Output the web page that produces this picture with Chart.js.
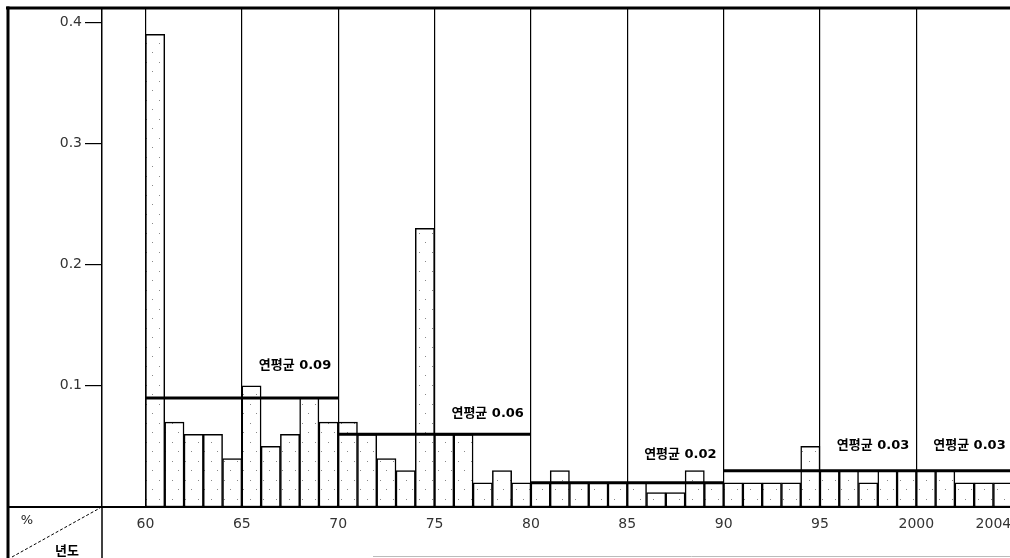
<!DOCTYPE html>
<html><head><meta charset="utf-8">
<script src="https://cdn.jsdelivr.net/npm/chart.js@4.4.1/dist/chart.umd.min.js"></script>
<style>html,body{margin:0;padding:0;background:#fff;}canvas{display:block;}</style>
</head><body>
<canvas id="c" width="1010" height="558"></canvas>
<script>
// ---- data ----
const years = [1960,1961,1962,1963,1964,1965,1966,1967,1968,1969,
               1970,1971,1972,1973,1974,1975,1976,1977,1978,1979,
               1980,1981,1982,1983,1984,1985,1986,1987,1988,1989,
               1990,1991,1992,1993,1994,1995,1996,1997,1998,1999,
               2000,2001,2002,2003,2004];
const shareValues = [0.39,0.07,0.06,0.06,0.04,0.10,0.05,0.06,0.09,0.07,
                     0.07,0.06,0.04,0.03,0.23,0.06,0.06,0.02,0.03,0.02,
                     0.02,0.03,0.02,0.02,0.02,0.02,0.012,0.012,0.03,0.02,
                     0.02,0.02,0.02,0.02,0.05,0.03,0.03,0.02,0.03,0.03,
                     0.03,0.03,0.02,0.02,0.02];
const avgPeriodStart = [1960,1970,1980,1990,2000];
const avgPeriodEnd   = [1970,1980,1990,2000,2005];
const avgValues      = [0.09,0.06,0.02,0.03,0.03];
const avgLabels      = ['연평균 0.09','연평균 0.06','연평균 0.02','연평균 0.03','연평균 0.03'];
const xTickValues = [1960,1965,1970,1975,1980,1985,1990,1995,2000,2004];
const xTickLabels = ['60','65','70','75','80','85','90','95','2000','2004'];
const yTickValues = [0.1,0.2,0.3,0.4];
const yTickLabels = ['0.1','0.2','0.3','0.4'];

// ---- styling helpers ----
const canvas = document.getElementById('c');
const mainCtx = canvas.getContext('2d');
function stipple(){
  const c = document.createElement('canvas'); c.width = 13; c.height = 19;
  const g = c.getContext('2d');
  g.fillStyle = '#fff'; g.fillRect(0,0,13,19);
  g.fillStyle = '#888'; g.fillRect(3,5,1,1); g.fillRect(9,14,1,1);
  return mainCtx.createPattern(c, 'repeat');
}
const barFill = stipple();
const labelLift = [32,21,28,25,25];

const framePlugin = {
  id: 'frame',
  afterDraw(chart){
    const ctx = chart.ctx, a = chart.chartArea, W = chart.width, H = chart.height;
    ctx.save();
    ctx.strokeStyle = '#000';
    ctx.lineWidth = 3;
    ctx.beginPath(); ctx.moveTo(6, a.top); ctx.lineTo(W, a.top); ctx.stroke();
    ctx.beginPath(); ctx.moveTo(8, a.top - 1.5); ctx.lineTo(8, H); ctx.stroke();
    ctx.lineWidth = 2;
    ctx.beginPath(); ctx.moveTo(8, a.bottom); ctx.lineTo(a.left, a.bottom); ctx.stroke();
    ctx.lineWidth = 1.5;
    ctx.beginPath(); ctx.moveTo(a.left, a.bottom); ctx.lineTo(a.left, H); ctx.stroke();
    ctx.setLineDash([3,2]); ctx.lineWidth = 1;
    ctx.beginPath(); ctx.moveTo(12, H - 1); ctx.lineTo(a.left - 2, a.bottom + 1); ctx.stroke();
    ctx.setLineDash([]);
    ctx.strokeStyle = '#bbb'; ctx.lineWidth = 1;
    ctx.beginPath(); ctx.moveTo(373, H - 1.5); ctx.lineTo(W, H - 1.5); ctx.stroke();
    ctx.fillStyle = '#222';
    ctx.font = '13px "DejaVu Sans"'; ctx.textAlign = 'center'; ctx.textBaseline = 'middle';
    ctx.fillText('%', 27, 521);
    ctx.fillStyle = '#000';
    ctx.font = 'bold 13px "Noto Sans CJK KR"';
    ctx.fillText('년도', 67, 550);
    ctx.restore();
  }
};

const avgLabelPlugin = {
  id: 'avgLabels',
  afterDatasetsDraw(chart){
    const ctx = chart.ctx, xs = chart.scales.x, ys = chart.scales.y;
    ctx.save();
    ctx.fillStyle = '#000';
    ctx.font = 'bold 13px "DejaVu Sans", "Noto Sans CJK KR"';
    ctx.textAlign = 'right'; ctx.textBaseline = 'middle';
    avgValues.forEach((v, i) => {
      const x = xs.getPixelForValue(avgPeriodEnd[i]) - 7;
      const y = ys.getPixelForValue(v) - labelLift[i];
      ctx.fillText(avgLabels[i], x, y);
    });
    ctx.restore();
  }
};

const barData = years.map((yr, i) => ({x: yr + 0.5, y: shareValues[i]}));
const avgSets = avgValues.map((v, i) => ({
  type: 'line',
  data: [{x: avgPeriodStart[i], y: v}, {x: avgPeriodEnd[i], y: v}],
  borderColor: '#000', borderWidth: 3, pointRadius: 0, borderCapStyle: 'butt', order: 1
}));

new Chart(canvas, {
  type: 'bar',
  data: {
    datasets: [
      {type: 'bar', data: barData, backgroundColor: barFill, borderColor: '#000', borderWidth: 1.5,
       borderSkipped: false, barPercentage: 1, categoryPercentage: 1, order: 2},
      ...avgSets
    ]
  },
  options: {
    responsive: false, animation: false, devicePixelRatio: 1,
    layout: {padding: {top: 8, left: 0, right: 0, bottom: 0}, autoPadding: false},
    plugins: {legend: {display: false}, tooltip: {enabled: false}},
    scales: {
      x: {
        type: 'linear', min: 1957.743, max: 2004.86, offset: false, position: 'bottom',
        afterBuildTicks: s => { s.ticks = xTickValues.map(v => ({value: v})); },
        afterFit: s => { s.height = 51; s.paddingLeft = 0; s.paddingRight = 0; },
        grid: {offset: false, drawTicks: false, drawOnChartArea: true, lineWidth: 1.2,
               color: c => (c.tick && c.tick.value === 2004) ? 'rgba(0,0,0,0)' : '#000'},
        border: {display: true, color: '#000', width: 2},
        ticks: {autoSkip: false, maxRotation: 0, padding: 9, color: '#333',
                font: {family: 'DejaVu Sans', size: 14}, callback: (v, i) => xTickLabels[i]}
      },
      y: {
        type: 'linear', min: 0, max: 0.4117,
        afterBuildTicks: s => { s.ticks = yTickValues.map(v => ({value: v})); },
        afterFit: s => { s.width = 102; s.paddingTop = 0; s.paddingBottom = 0; },
        grid: {drawOnChartArea: false, drawTicks: true, tickLength: 17, color: '#000', lineWidth: 1.2},
        border: {display: true, color: '#000', width: 1.5},
        ticks: {padding: 3, color: '#333', font: {family: 'DejaVu Sans', size: 14},
                callback: (v, i) => yTickLabels[i]}
      }
    }
  },
  plugins: [framePlugin, avgLabelPlugin]
});
</script>
</body></html>
